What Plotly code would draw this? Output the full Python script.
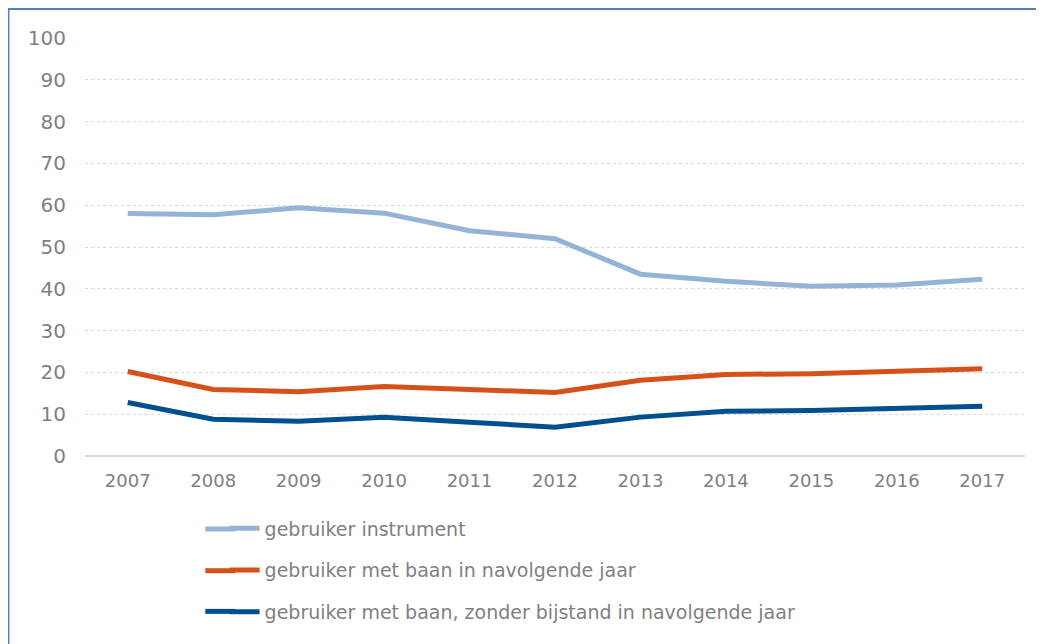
import plotly.graph_objects as go

years = ["2007", "2008", "2009", "2010", "2011", "2012", "2013", "2014", "2015", "2016", "2017"]

instrument = [58.0, 57.7, 59.4, 58.1, 53.9, 52.0, 43.5, 41.8, 40.6, 40.9, 42.3]
met_baan = [20.2, 15.9, 15.4, 16.6, 15.9, 15.2, 18.1, 19.5, 19.7, 20.4, 20.9]
zonder_bijstand = [12.8, 8.8, 8.3, 9.3, 8.1, 6.9, 9.3, 10.7, 10.9, 11.4, 11.9]

names = [
    "gebruiker instrument",
    "gebruiker met baan in navolgende jaar",
    "gebruiker met baan, zonder bijstand in navolgende jaar",
]
colors = ["#95B3D7", "#D55118", "#004F8F"]

fig = go.Figure()

for i, (vals, name, col) in enumerate(zip([instrument, met_baan, zonder_bijstand], names, colors)):
    fig.add_trace(
        go.Scatter(
            x=years,
            y=vals,
            mode="lines",
            name=name,
            legendgroup=str(i),
            line=dict(color=col, width=5),
        )
    )

# blue frame round the chart
fig.add_shape(
    type="rect", xref="paper", yref="paper",
    x0=-0.0814, x1=1.05, y0=-0.5, y1=1.0696,
    line=dict(color="#4F81BD", width=2),
)

# legend swatches are longer in the original: lengthen them to the left
for col, yy in zip(colors, [-0.1746, -0.2744, -0.3717]):
    fig.add_shape(
        type="line", xref="paper", yref="paper",
        x0=0.128, x1=0.16, y0=yy, y1=yy,
        line=dict(color=col, width=5),
    )

# figure is 8px smaller than the window: the page body has an 8px margin
fig.update_layout(
    width=1036,
    height=636,
    margin=dict(l=77, r=19, t=30, b=182),
    paper_bgcolor="white",
    plot_bgcolor="white",
    font=dict(family="DejaVu Sans", color="#7F7F7F"),
    showlegend=True,
    legend=dict(
        x=0.1485, y=-0.128, xanchor="left", yanchor="top",
        font=dict(size=19, color="#7F7F7F"),
        tracegroupgap=14,
        bgcolor="rgba(0,0,0,0)",
    ),
    xaxis=dict(
        type="category",
        range=[-0.5, 10.5],
        showgrid=False,
        showline=False,
        ticks="",
        tickfont=dict(size=18),
        ticklabelstandoff=12,
    ),
    yaxis=dict(
        range=[0, 100],
        dtick=10,
        showgrid=True,
        gridcolor="#D9D9D9",
        griddash="dot",
        gridwidth=1,
        zeroline=True,
        zerolinecolor="#D9D9D9",
        zerolinewidth=2,
        ticks="",
        tickfont=dict(size=20),
        ticklabelstandoff=18,
    ),
)

fig.write_html("out.html")
